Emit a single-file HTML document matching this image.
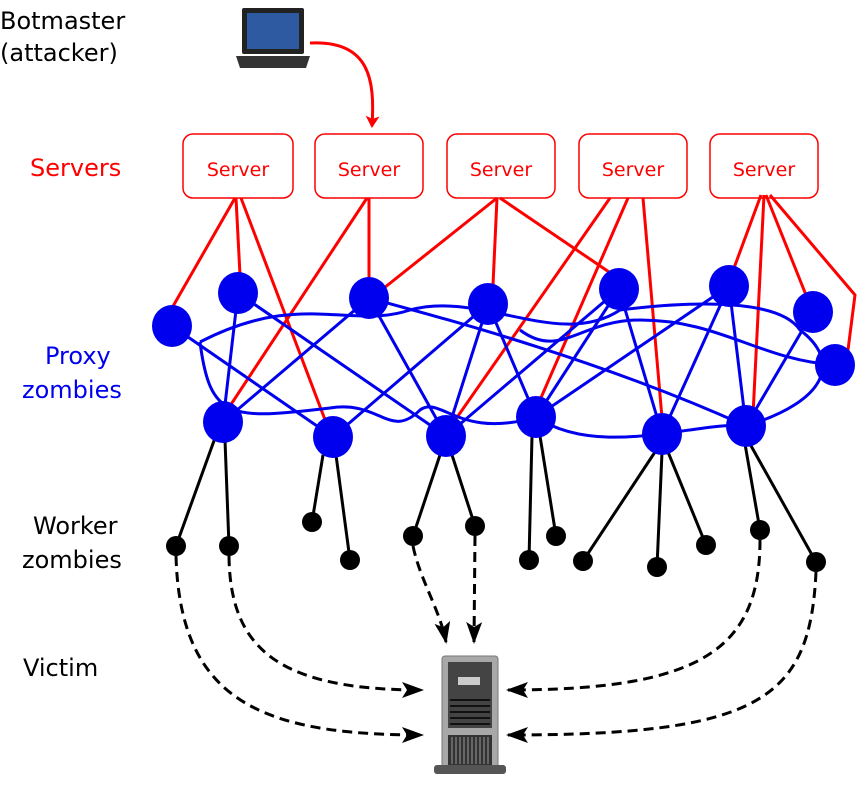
<!DOCTYPE html>
<html><head><style>body{margin:0;background:#fff;width:867px;height:783px;overflow:hidden}</style></head><body>
<svg width="867" height="783" viewBox="0 0 867 783" xmlns="http://www.w3.org/2000/svg" font-family="DejaVu Sans, Liberation Sans, sans-serif">
<defs>
<marker id="ar" markerWidth="12" markerHeight="14" refX="10" refY="7" orient="auto" markerUnits="userSpaceOnUse"><path d="M0,0 L12,7 L0,14 L3,7z" fill="red"/></marker>
<marker id="ab" markerWidth="22" markerHeight="16" refX="20" refY="8" orient="auto" markerUnits="userSpaceOnUse"><path d="M0,0 L22,8 L0,16 L5,8z" fill="#000"/></marker>
</defs>
<g font-size="24">
<text x="0" y="29">Botmaster</text><text x="0" y="61">(attacker)</text>
<text x="30" y="176" fill="red">Servers</text>
<text x="45" y="364" fill="#0000ee">Proxy</text><text x="22" y="398" fill="#0000ee">zombies</text>
<text x="33" y="534">Worker</text><text x="22" y="568">zombies</text>
<text x="23" y="676">Victim</text>
</g>
<!-- laptop -->
<rect x="242" y="8" width="62" height="46" rx="2" fill="#222"/>
<rect x="247" y="13" width="52" height="36" fill="#2d5aa0"/>
<path d="M236,56 L310,56 L306,68 L240,68z" fill="#333"/>
<path d="M310,43 C370,40 375,80 372,126" fill="none" stroke="red" stroke-width="3" marker-end="url(#ar)"/>
<!-- servers -->
<g fill="#fff" stroke="red" stroke-width="1.5">
<rect x="183" y="134" width="110" height="64" rx="10"/><rect x="315" y="134" width="108" height="64" rx="10"/><rect x="447" y="134" width="108" height="64" rx="10"/><rect x="579" y="134" width="108" height="64" rx="10"/><rect x="710" y="134" width="108" height="64" rx="10"/>
</g>
<g fill="red" font-size="19" text-anchor="middle">
<text x="238" y="176">Server</text><text x="369" y="176">Server</text><text x="501" y="176">Server</text><text x="633" y="176">Server</text><text x="764" y="176">Server</text>
</g>
<!-- red lines -->
<g stroke="red" stroke-width="3" fill="none">
<path d="M235,198 L172,308"/><path d="M236,198 L240,275"/><path d="M241,198 L327,425"/>
<path d="M367,198 L226,412"/><path d="M369,198 L369,280"/>
<path d="M497,198 L384,288"/><path d="M497,198 L493,285"/><path d="M500,198 L612,274"/>
<path d="M610,198 L451,426"/><path d="M628,198 L540,400"/><path d="M643,198 L662,418"/>
<path d="M761,195 L734,268"/><path d="M764,195 L753,415"/><path d="M766,195 L806,295"/><path d="M770,195 L855,295 L848,350"/>
</g>
<!-- black lines -->
<g stroke="#000" stroke-width="3">
<path d="M215,438 L176,546"/><path d="M225,440 L229,546"/>
<path d="M323,455 L312,522"/><path d="M336,455 L350,560"/>
<path d="M440,455 L413,536"/><path d="M452,455 L475,526"/>
<path d="M532,436 L529,560"/><path d="M540,436 L556,536"/>
<path d="M655,452 L583,561"/><path d="M662,452 L657,567"/><path d="M668,452 L706,545"/>
<path d="M745,444 L760,530"/><path d="M750,444 L816,562"/>
</g>
<!-- blue lines -->
<g stroke="#0000ee" stroke-width="3" fill="none">
<path d="M172,326 L333,437"/><path d="M238,293 L446,436"/><path d="M238,293 L223,422"/>
<path d="M369,298 L223,422"/><path d="M369,298 L446,436"/><path d="M369,298 C450,320 600,360 746,426"/>
<path d="M488,304 L333,437"/><path d="M488,304 L446,436"/><path d="M488,304 L536,417"/>
<path d="M619,289 L446,436"/><path d="M619,289 L536,417"/><path d="M619,289 L662,434"/>
<path d="M729,286 L536,417"/><path d="M729,286 L662,434"/><path d="M729,286 L746,426"/>
<path d="M813,312 L746,426"/>
<path d="M200,342 C300,290 350,330 410,310 C480,290 560,350 620,310 C700,300 780,300 800,330 C840,360 830,400 746,426"/>
<path d="M200,342 C210,420 230,420 330,408 C380,400 390,440 420,410 C440,395 460,440 536,417 C600,460 700,420 746,426"/>
<path d="M835,365 C760,360 720,320 640,320 C580,320 560,360 520,330"/>
</g>
<!-- proxy nodes -->
<g fill="#0000ee">
<ellipse cx="172" cy="326" rx="20" ry="21"/><ellipse cx="238" cy="293" rx="20" ry="21"/><ellipse cx="369" cy="298" rx="20" ry="21"/><ellipse cx="488" cy="304" rx="20" ry="21"/><ellipse cx="619" cy="289" rx="20" ry="21"/><ellipse cx="729" cy="286" rx="20" ry="21"/><ellipse cx="813" cy="312" rx="20" ry="21"/><ellipse cx="835" cy="365" rx="20" ry="21"/>
<ellipse cx="223" cy="422" rx="20" ry="21"/><ellipse cx="333" cy="437" rx="20" ry="21"/><ellipse cx="446" cy="436" rx="20" ry="21"/><ellipse cx="536" cy="417" rx="20" ry="21"/><ellipse cx="662" cy="434" rx="20" ry="21"/><ellipse cx="746" cy="426" rx="20" ry="21"/>
</g>
<!-- workers -->
<g fill="#000">
<circle cx="176" cy="546" r="10"/><circle cx="229" cy="546" r="10"/><circle cx="312" cy="522" r="10"/><circle cx="350" cy="560" r="10"/><circle cx="413" cy="536" r="10"/><circle cx="475" cy="526" r="10"/><circle cx="529" cy="560" r="10"/><circle cx="556" cy="536" r="10"/><circle cx="583" cy="561" r="10"/><circle cx="657" cy="567" r="10"/><circle cx="706" cy="545" r="10"/><circle cx="760" cy="530" r="10"/><circle cx="816" cy="562" r="10"/>
</g>
<!-- dashed -->
<g stroke="#000" stroke-width="3" stroke-dasharray="10,6" fill="none">
<path d="M176,556 C180,700 260,735 422,735" marker-end="url(#ab)"/>
<path d="M229,556 C230,650 280,690 422,690" marker-end="url(#ab)"/>
<path d="M413,546 C420,580 440,610 446,642" marker-end="url(#ab)"/>
<path d="M475,536 L474,642" marker-end="url(#ab)"/>
<path d="M760,540 C760,650 700,690 508,690" marker-end="url(#ab)"/>
<path d="M816,572 C810,700 760,735 508,735" marker-end="url(#ab)"/>
</g>
<!-- victim tower -->
<rect x="442" y="656" width="56" height="112" rx="3" fill="#a8a8a8" stroke="#777"/>
<rect x="448" y="662" width="44" height="66" fill="#444"/>
<rect x="458" y="677" width="22" height="8" fill="#ccc"/>
<g stroke="#111" stroke-width="2"><path d="M450,700H490M450,706H490M450,712H490M450,718H490M450,724H490"/></g>
<rect x="448" y="735" width="44" height="30" fill="#333"/>
<g stroke="#999" stroke-width="1"><path d="M452,737V764M456,737V764M460,737V764M464,737V764M468,737V764M472,737V764M476,737V764M480,737V764M484,737V764M488,737V764"/></g>
<rect x="434" y="765" width="72" height="9" rx="3" fill="#555"/>
</svg>
</body></html>
